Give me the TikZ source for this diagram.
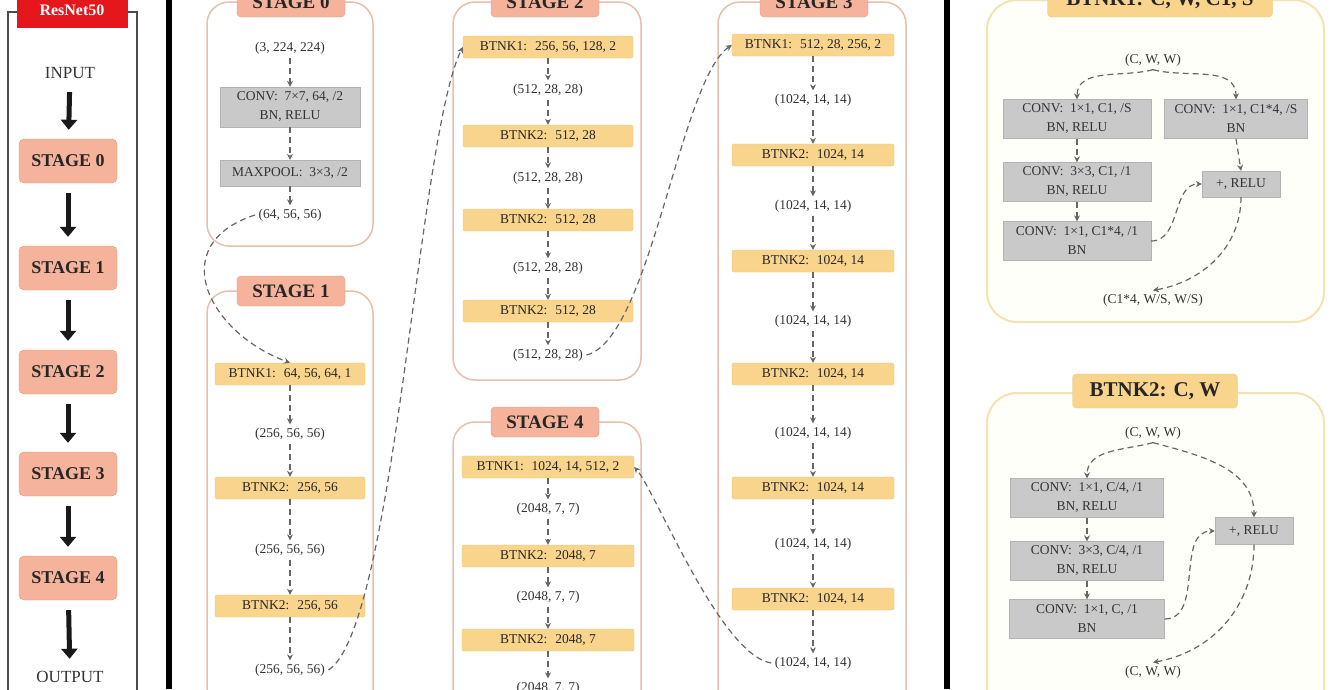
\documentclass[tikz,border=0pt]{standalone}
\usepackage{fontspec}
\setmainfont{Liberation Serif}
\usepackage{xcolor}
\usetikzlibrary{arrows.meta,positioning}

\definecolor{stagefill}{HTML}{F5B39B}
\definecolor{stageline}{HTML}{E49B80}
\definecolor{stageborder}{HTML}{E6BFAE}
\definecolor{btnkfill}{HTML}{F9D48C}
\definecolor{btnkline}{HTML}{EFC676}
\definecolor{btnkborder}{HTML}{F4E2B2}
\definecolor{convfill}{HTML}{C9C9C9}
\definecolor{convline}{HTML}{B3B3B3}
\definecolor{flowgray}{HTML}{666666}
\definecolor{textgray}{HTML}{333333}
\definecolor{netred}{HTML}{E5161C}

\begin{document}
\begin{tikzpicture}[x=1pt,y=-1pt,
  every node/.style={font=\fontsize{13.5}{19}\selectfont,text=textgray},
  stagebox/.style={draw=stageline,fill=stagefill,rounded corners=5pt,minimum width=98pt,minimum height=44pt,font=\fontsize{18}{20}\selectfont\bfseries,text=black!85},
  stagetitle/.style={draw=stageline,fill=stagefill,rounded corners=4pt,minimum width=108pt,minimum height=30pt,font=\fontsize{19}{21}\selectfont\bfseries,text=black!85},
  stageframe/.style={draw=stageborder,line width=1.5pt,fill=white,rounded corners=22pt},
  blockframe/.style={draw=btnkborder,line width=2pt,fill=yellow!2,rounded corners=30pt},
  blocktitle/.style={draw=btnkline,fill=btnkfill,rounded corners=4pt,minimum height=34pt,font=\fontsize{21}{23}\selectfont\bfseries,text=black!85},
  btnk/.style={draw=btnkline,fill=btnkfill,rounded corners=2pt,minimum width=150pt,minimum height=22pt,inner sep=1pt,text=black!85},
  conv/.style={draw=convline,fill=convfill,minimum width=140pt,minimum height=40pt,align=center,inner sep=1pt,text=black!80},
  flow/.style={draw=flowgray,dash pattern=on 6pt off 4pt,line width=1.2pt,-{Stealth[length=6pt,width=6pt]}},
  bigarrow/.style={draw=black!90,line width=5pt,-{Triangle[length=10pt,width=16pt]},shorten <=10pt,shorten >=9pt},
]
\useasboundingbox (0,0) rectangle (1331,689);
\clip (0,0) rectangle (1331,689);
\fill[white] (0,0) rectangle (1331,689);

% overview column
\draw[black!70,line width=1.5pt] (17,12) -- (8,12) -- (8,700);
\draw[black!70,line width=1.5pt] (128,12) -- (137,12) -- (137,700);
\node[fill=netred,minimum width=111pt,minimum height=36pt,font=\fontsize{16}{18}\selectfont\bfseries,text=white] (net) at (72,10) {ResNet50};
\node[font=\fontsize{17}{19}\selectfont] (input) at (70,73) {INPUT};
\foreach \i/\y in {0/161,1/268,2/372,3/474,4/578}
  \node[stagebox] (s\i) at (68,\y) {STAGE \i};
\node[font=\fontsize{17}{19}\selectfont] (output) at (70,677) {OUTPUT};
\foreach \a/\b in {input/s0,s0/s1,s1/s2,s2/s3,s3/s4,s4/output}
  \draw[bigarrow] (\a) -- (\b);

% dividers
\fill[black] (166,0) rectangle (172,689);
\fill[black] (944,0) rectangle (950,689);

% stage 0
\draw[stageframe] (207,2) rectangle (373,246);
\node[stagetitle] (t0) at (291,2) {STAGE 0};
\node (i0) at (290,48) {(3, 224, 224)};
\node[conv] (c0) at (290,107) {CONV:~ 7×7, 64, /2\\BN, RELU};
\node[conv,minimum height=26pt] (p0) at (290,173) {MAXPOOL:~ 3×3, /2};
\node (o0) at (290,215) {(64, 56, 56)};
\foreach \a/\b in {i0/c0,c0/p0,p0/o0}
  \draw[flow] (\a) -- (\b);

% stage 1
\draw[stageframe] (207,291) rectangle (373,720);
\node[stagetitle] (t1) at (291,291) {STAGE 1};
\node[btnk] (b10) at (290,374) {BTNK1:~ 64, 56, 64, 1};
\node (o10) at (290,434) {(256, 56, 56)};
\node[btnk] (b11) at (290,488) {BTNK2:~ 256, 56};
\node (o11) at (290,550) {(256, 56, 56)};
\node[btnk] (b12) at (290,606) {BTNK2:~ 256, 56};
\node (o12) at (290,670) {(256, 56, 56)};
\foreach \a/\b in {b10/o10,o10/b11,b11/o11,o11/b12,b12/o12}
  \draw[flow] (\a) -- (\b);

% stage 2
\draw[stageframe] (453,2) rectangle (641,380);
\node[stagetitle] (t2) at (545,2) {STAGE 2};
\node[btnk,minimum width=170pt] (b20) at (548,47) {BTNK1:~ 256, 56, 128, 2};
\node (o20) at (548,90) {(512, 28, 28)};
\node[btnk,minimum width=170pt] (b21) at (548,136) {BTNK2:~ 512, 28};
\node (o21) at (548,178) {(512, 28, 28)};
\node[btnk,minimum width=170pt] (b22) at (548,220) {BTNK2:~ 512, 28};
\node (o22) at (548,268) {(512, 28, 28)};
\node[btnk,minimum width=170pt] (b23) at (548,311) {BTNK2:~ 512, 28};
\node (o23) at (548,355) {(512, 28, 28)};
\foreach \a/\b in {b20/o20,o20/b21,b21/o21,o21/b22,b22/o22,o22/b23,b23/o23}
  \draw[flow] (\a) -- (\b);

% stage 4
\draw[stageframe] (453,422) rectangle (641,720);
\node[stagetitle] (t4) at (545,422) {STAGE 4};
\node[btnk,minimum width=172pt] (b40) at (548,467) {BTNK1:~ 1024, 14, 512, 2};
\node (o40) at (548,509) {(2048, 7, 7)};
\node[btnk,minimum width=172pt] (b41) at (548,556) {BTNK2:~ 2048, 7};
\node (o41) at (548,597) {(2048, 7, 7)};
\node[btnk,minimum width=172pt] (b42) at (548,640) {BTNK2:~ 2048, 7};
\node (o42) at (548,688) {(2048, 7, 7)};
\foreach \a/\b in {b40/o40,o40/b41,b41/o41,o41/b42,b42/o42}
  \draw[flow] (\a) -- (\b);

% stage 3
\draw[stageframe] (718,2) rectangle (906,720);
\node[stagetitle] (t3) at (814,2) {STAGE 3};
\node[btnk,minimum width=162pt] (b30) at (813,45) {BTNK1:~ 512, 28, 256, 2};
\node (o30) at (813,100) {(1024, 14, 14)};
\foreach \i/\y in {1/155,2/261,3/374,4/488,5/599}
  \node[btnk,minimum width=162pt] (b3\i) at (813,\y) {BTNK2:~ 1024, 14};
\foreach \i/\y in {1/206,2/321,3/433,4/544,5/663}
  \node (o3\i) at (813,\y) {(1024, 14, 14)};
\foreach \i [count=\j from 0] in {1,...,5}
  \draw[flow] (o3\j) -- (b3\i);
\foreach \i in {1,...,5}
  \draw[flow] (b3\i) -- (o3\i);
\draw[flow] (b30) -- (o30);

% links between stages
\draw[flow] (o0.west) .. controls (165,244) and (207,332) .. (b10.north);
\draw[flow] (o12.east) .. controls (395,628) and (418,137) .. (b20.west);
\draw[flow] (o23.east) .. controls (650,340) and (680,80) .. (b30.west);
\draw[flow] (o35.west) .. controls (720,655) and (655,490) .. (b40.east);

% BTNK1 block
\draw[blockframe] (987,0) rectangle (1324,322);
\node[blocktitle,minimum width=225pt] (k1t) at (1160,0) {BTNK1: C, W, C1, S};
\node (cw1) at (1153,60) {(C, W, W)};
\node[conv,minimum width=148pt,minimum height=39pt] (k1a) at (1077,119) {CONV:~ 1×1, C1, /S\\BN, RELU};
\node[conv,minimum width=143pt,minimum height=39pt] (k1d) at (1236,119) {CONV:~ 1×1, C1*4, /S\\BN};
\node[conv,minimum width=148pt,minimum height=39pt] (k1b) at (1077,182) {CONV:~ 3×3, C1, /1\\BN, RELU};
\node[conv,minimum width=148pt,minimum height=39pt] (k1c) at (1077,241) {CONV:~ 1×1, C1*4, /1\\BN};
\node[conv,minimum width=78pt,minimum height=26pt] (add1) at (1241,184) {+, RELU};
\node (out1) at (1153,300) {(C1*4, W/S, W/S)};
\draw[flow] (cw1.south) to[out=195,in=90] (k1a.north);
\draw[flow] (cw1.south) to[out=-15,in=90] (k1d.north);
\draw[flow] (k1a) -- (k1b);
\draw[flow] (k1b) -- (k1c);
\draw[flow] (k1d.south) -- (add1.north);
\draw[flow] (k1c.east) to[out=0,in=180] (add1.west);
\draw[flow] (add1.south) to[out=-90,in=10] (out1.north);

% BTNK2 block
\draw[blockframe] (987,393) rectangle (1324,720);
\node[blocktitle,minimum width=165pt] (k2t) at (1155,391) {BTNK2: C, W};
\node (cw2) at (1153,433) {(C, W, W)};
\node[conv,minimum width=153pt,minimum height=39pt] (k2a) at (1087,498) {CONV:~ 1×1, C/4, /1\\BN, RELU};
\node[conv,minimum width=153pt,minimum height=39pt] (k2b) at (1087,561) {CONV:~ 3×3, C/4, /1\\BN, RELU};
\node[conv,minimum width=155pt,minimum height=39pt] (k2c) at (1087,619) {CONV:~ 1×1, C, /1\\BN};
\node[conv,minimum width=78pt,minimum height=27pt] (add2) at (1254,531) {+, RELU};
\node (out2) at (1153,672) {(C, W, W)};
\draw[flow] (cw2.south) to[out=195,in=90] (k2a.north);
\draw[flow] (cw2.south) to[out=-15,in=90] (add2.north);
\draw[flow] (k2a) -- (k2b);
\draw[flow] (k2b) -- (k2c);
\draw[flow] (k2c.east) to[out=0,in=180] (add2.west);
\draw[flow] (add2.south) to[out=-90,in=10] (out2.north);
\end{tikzpicture}
\end{document}
